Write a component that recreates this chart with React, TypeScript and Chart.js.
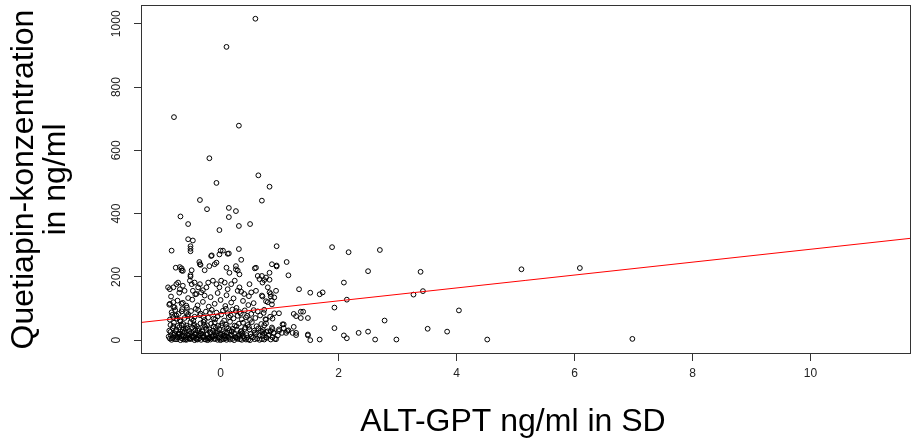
import { useEffect, useRef } from "react";
import { Chart, registerables } from "chart.js";

Chart.register(...registerables);

// Axis ticks
const xTicks = [0, 2, 4, 6, 8, 10];
const yTicks = [0, 200, 400, 600, 800, 1000];
const xTitle = "ALT-GPT ng/ml in SD";
const yTitleLines = ["Quetiapin-konzentration", "in ng/ml"];

// Axis ranges (R style, 4% extension)
const xRange = [-1.349, 11.703];
const yRange = [-43.75, 1059.4];

// Regression line (fitted values at the plot edges)
const fitX = [-1.35, 11.7];
const fitY = [56, 322];

// Scatter points in groups
const highX = [0.59, 0.10, -0.79, 0.31, -0.19, -0.07, 0.64, 0.83, 0.70, -0.35, -0.23, 0.14, 0.26, 0.14, -0.68, -0.55, 0.31, 0.50, -0.02];
const highY = [1016, 927, 705, 678, 575, 497, 521, 485, 441, 443, 414, 418, 408, 389, 391, 367, 361, 367, 348];

const upperX = [-0.55, -0.47, -0.51, -0.51, -0.51, -0.83, 0.00, 0.04, 0.31, 0.95, 0.14, -0.15, 0.35, 1.12, -0.36, -0.35, -0.07, 0.87, 0.95, 0.95, 1.15, 0.58, 0.26, 0.29, 0.10, -0.66, -0.66, -0.51, -0.51, -0.76, -0.16, -0.02, 0.12, -0.69, -0.64, -0.49, -0.34, -0.27, -0.19, -0.10, 0.26, 0.15, 0.32, 0.60, 0.63, 0.77, 0.70, 0.74, 0.83, 0.83];
const upperY = [319, 315, 297, 289, 281, 283, 283, 283, 288, 297, 274, 268, 254, 247, 247, 240, 245, 240, 236, 233, 205, 227, 224, 220, 229, 227, 220, 206, 201, 229, 266, 271, 273, 231, 219, 221, 238, 221, 234, 240, 234, 213, 208, 229, 203, 198, 203, 190, 191, 213];

const rightX = [1.33, 1.89, 2.17, 2.70, 2.50, 3.39, 5.10, 6.09, 6.98, 1.52, 1.68, 1.73, 2.09, 2.14, 3.27, 3.43, 1.93, 4.04, 0.99, 1.24, 1.28, 1.36, 1.40, 1.36, 1.48, 2.78, 1.07, 1.24, 0.99, 1.04, 1.11, 1.15, 1.28, 1.28, 1.48, 1.48, 1.52, 1.68, 1.93, 2.09, 2.14, 2.34, 2.50, 2.62, 2.98, 3.51, 3.84, 4.52];
const rightY = [161, 294, 278, 285, 218, 216, 224, 228, 4, 150, 145, 151, 182, 128, 144, 155, 103, 94, 85, 83, 76, 90, 90, 70, 70, 62, 50, 42, 34, 23, 23, 31, 23, 16, 18, 15, 0, 2, 38, 15, 6, 23, 27, 2, 2, 36, 27, 2];

const edgeX = [0.70, 0.71, 0.83, 0.85, 0.87, 0.87, 0.77, 0.80, 0.74, 0.91, 0.77, 0.88, 0.74, 0.87, 1.05, 1.07, 0.71, 0.77, 0.85, 0.90, 0.99, 1.13, 1.22, 0.71, 0.77, 0.88];
const edgeY = [141, 138, 151, 138, 125, 113, 123, 120, 96, 85, 65, 68, 47, 40, 50, 38, 26, 26, 29, 23, 29, 29, 23, 14, 9, 9];

const midX = [-0.89, -0.86, -0.80, -0.75, -0.72, -0.69, -0.64, -0.61, -0.86, -0.80, -0.78, -0.66, -0.58, -0.52, -0.49, -0.44, -0.38, -0.35, -0.47, -0.41, -0.33, -0.27, -0.24, -0.21, -0.13, -0.07, -0.02, 0.01, 0.07, 0.12, 0.18, 0.24, 0.29, 0.32, 0.40, 0.49, 0.52, 0.60, 0.66, 0.71, 0.80, 0.85, 0.91, 0.94];
const midY = [167, 161, 167, 177, 182, 161, 172, 156, 115, 120, 104, 115, 109, 188, 177, 182, 167, 177, 156, 146, 151, 141, 167, 182, 188, 177, 167, 188, 182, 161, 177, 188, 156, 167, 146, 177, 151, 156, 193, 182, 167, 146, 135, 156];

const lowAX = [-0.83, -0.77, -0.68, -0.63, -0.58, -0.52, -0.44, -0.39, -0.33, -0.27, -0.22, -0.17, -0.11, -0.05, 0.0, 0.05, 0.1, 0.16, 0.23, 0.29, 0.36, 0.43, 0.5, 0.58, 0.66, 0.74];
const lowAY = [1, 3, 0, 2, 1, 4, 0, 2, 1, 3, 0, 2, 4, 1, 0, 3, 1, 2, 0, 4, 1, 2, 0, 3, 1, 2];

const lowBX = [-0.86, -0.8, -0.74, -0.7, -0.66, -0.6, -0.55, -0.5, -0.46, -0.41, -0.36, -0.3, -0.25, -0.2, -0.14, -0.09, -0.03, 0.02, 0.08, 0.13, 0.2, 0.26, 0.33, 0.4, 0.47, 0.55, 0.62, 0.7, 0.78, 0.85, 0.92];
const lowBY = [5, 8, 3, 10, 6, 2, 7, 4, 9, 3, 6, 8, 2, 5, 9, 4, 7, 3, 6, 10, 4, 8, 3, 6, 2, 9, 5, 3, 7, 2, 4];

const lowCX = [-0.84, -0.78, -0.72, -0.67, -0.62, -0.57, -0.52, -0.47, -0.42, -0.38, -0.33, -0.28, -0.22, -0.17, -0.11, -0.06, 0.0, 0.05, 0.11, 0.17, 0.23, 0.3, 0.37, 0.44, 0.51, 0.58, 0.66, 0.74, 0.82, 0.9, 0.97];
const lowCY = [15, 22, 18, 13, 24, 17, 20, 14, 23, 16, 21, 12, 19, 25, 15, 22, 18, 14, 24, 17, 20, 13, 22, 16, 19, 24, 14, 21, 17, 23, 15];

const lowDX = [-0.87, -0.81, -0.76, -0.7, -0.64, -0.59, -0.53, -0.48, -0.43, -0.37, -0.31, -0.26, -0.19, -0.13, -0.08, -0.02, 0.04, 0.1, 0.15, 0.21, 0.28, 0.35, 0.42, 0.49, 0.57, 0.64, 0.72, 0.8, 0.88];
const lowDY = [30, 38, 28, 41, 33, 36, 29, 40, 32, 37, 27, 42, 34, 30, 39, 35, 28, 41, 31, 36, 33, 29, 40, 34, 30, 37, 32, 28, 35];

const lowEX = [-0.85, -0.79, -0.73, -0.68, -0.63, -0.58, -0.51, -0.45, -0.4, -0.34, -0.29, -0.23, -0.16, -0.1, -0.04, 0.03, 0.09, 0.16, 0.24, 0.31, 0.38, 0.46, 0.53, 0.61, 0.69, 0.77];
const lowEY = [48, 55, 45, 59, 51, 46, 57, 50, 44, 53, 58, 47, 52, 56, 45, 54, 49, 58, 46, 52, 55, 48, 57, 44, 51, 53];

const lowFX = [-0.86, -0.8, -0.75, -0.69, -0.61, -0.56, -0.49, -0.44, -0.35, -0.27, -0.21, -0.12, -0.05, 0.06, 0.14, 0.22, 0.29, 0.36, 0.43, 0.5, 0.59, 0.67, 0.76, 0.84];
const lowFY = [65, 72, 78, 63, 70, 76, 67, 74, 79, 64, 71, 68, 75, 62, 73, 69, 77, 66, 72, 64, 70, 78, 66, 74];

const lowGX = [-0.83, -0.77, -0.71, -0.65, -0.58, -0.5, -0.42, -0.34, -0.25, -0.15, -0.07, 0.04, 0.12, 0.2, 0.32, 0.41, 0.52, 0.63, 0.73];
const lowGY = [88, 95, 83, 98, 86, 92, 99, 84, 90, 96, 87, 93, 85, 97, 89, 94, 83, 91, 86];

const lowHX = [-0.87, -0.8, -0.73, -0.64, -0.57, -0.48, -0.39, -0.3, -0.2, -0.1, 0.0, 0.08, 0.18, 0.27, 0.38, 0.47, 0.56];
const lowHY = [112, 105, 125, 118, 103, 128, 110, 121, 106, 115, 127, 108, 119, 102, 124, 111, 117];

const lowIX = [-0.84, -0.7, -0.55, -0.43, -0.3, -0.17, -0.05, 0.1, 0.22, 0.35, 0.48];
const lowIY = [138, 150, 133, 145, 158, 136, 149, 142, 132, 153, 139];

const lowJX = [-0.88, -0.82, -0.79, -0.73, -0.69, -0.64, -0.59, -0.54, -0.49, -0.44, -0.4, -0.35, -0.29, -0.24, -0.18, -0.13, -0.08, -0.01, 0.03, 0.09, 0.14, 0.19, 0.25, 0.32, 0.39, 0.45];
const lowJY = [11, 6, 17, 9, 20, 13, 8, 16, 11, 19, 7, 14, 10, 18, 6, 12, 16, 9, 20, 11, 7, 15, 10, 18, 12, 8];

const lowKX = [-0.85, -0.8, -0.75, -0.71, -0.66, -0.61, -0.56, -0.5, -0.45, -0.39, -0.34, -0.28, -0.24, -0.18, -0.12, -0.06, 0.01, 0.07, 0.13, 0.19, 0.27, 0.34, 0.41, 0.48];
const lowKY = [26, 44, 33, 21, 47, 28, 39, 24, 45, 31, 22, 48, 36, 25, 43, 29, 46, 23, 38, 27, 44, 26, 35, 42];

const lowLX = [-0.75, -0.65, -0.53, -0.42, -0.31, -0.2, -0.09, 0.07, 0.19, 0.28, 0.35, 0.52, 0.6, 0.68, 0.81, 0.94];
const lowLY = [12, 27, 5, 18, 31, 9, 24, 15, 28, 7, 19, 11, 20, 30, 14, 3];

const lowMX = [-0.82, -0.74, -0.66, -0.55, -0.46, -0.38, -0.29, -0.18, -0.09, 0.01, 0.09, 0.17, 0.26, 0.34, 0.45, 0.56];
const lowMY = [80, 68, 91, 82, 62, 95, 73, 86, 66, 81, 99, 78, 92, 84, 77, 95];

const groups: [number[], number[]][] = [
  [highX, highY], [upperX, upperY], [rightX, rightY], [edgeX, edgeY], [midX, midY],
  [lowAX, lowAY], [lowBX, lowBY], [lowCX, lowCY], [lowDX, lowDY], [lowEX, lowEY],
  [lowFX, lowFY], [lowGX, lowGY], [lowHX, lowHY], [lowIX, lowIY],
  [lowJX, lowJY], [lowKX, lowKY], [lowLX, lowLY], [lowMX, lowMY],
];

const FONT = '"Liberation Sans", Arial, sans-serif';

const annotPlugin = {
  id: "annot",
  afterDraw(chart: any) {
    const { ctx, chartArea: a, scales } = chart;
    ctx.save();
    // box
    ctx.strokeStyle = "#333";
    ctx.lineWidth = 1;
    ctx.strokeRect(a.left + 0.5, a.top + 0.5, a.right - a.left - 1, a.bottom - a.top - 1);
    // rotated y tick labels
    ctx.fillStyle = "#222";
    ctx.font = `12px ${FONT}`;
    ctx.textAlign = "center";
    ctx.textBaseline = "middle";
    for (const v of yTicks) {
      const py = scales.y.getPixelForValue(v);
      ctx.save();
      ctx.translate(117, py);
      ctx.rotate(-Math.PI / 2);
      ctx.fillText(String(v), 0, 0);
      ctx.restore();
    }
    // axis titles
    ctx.fillStyle = "#000";
    ctx.font = `32px ${FONT}`;
    ctx.textBaseline = "alphabetic";
    ctx.textAlign = "center";
    ctx.fillText(xTitle, 513, 431);
    const cy = (a.top + a.bottom) / 2;
    const baseX = [33, 65];
    yTitleLines.forEach((t, i) => {
      ctx.save();
      ctx.translate(baseX[i], cy);
      ctx.rotate(-Math.PI / 2);
      ctx.fillText(t, 0, 0);
      ctx.restore();
    });
    ctx.restore();
  },
};

export default function App() {
  const ref = useRef<HTMLCanvasElement>(null);
  useEffect(() => {
    document.body.style.margin = "0";
    const points: { x: number; y: number }[] = [];
    for (const [gx, gy] of groups) {
      const n = Math.min(gx.length, gy.length);
      for (let i = 0; i < n; i++) points.push({ x: gx[i], y: gy[i] });
    }
    const chart = new Chart(ref.current as HTMLCanvasElement, {
      type: "scatter",
      data: {
        datasets: [
          {
            data: points,
            pointStyle: "circle",
            pointRadius: 2.4,
            borderColor: "#000",
            borderWidth: 1,
            backgroundColor: "rgba(0,0,0,0)",
            order: 2,
          } as any,
          {
            data: fitX.map((x, i) => ({ x, y: fitY[i] })),
            showLine: true,
            borderColor: "#ff0000",
            borderWidth: 1,
            pointRadius: 0,
            order: 1,
          } as any,
        ],
      },
      options: {
        responsive: false,
        animation: false,
        layout: { padding: { top: 1, right: 1, left: 0, bottom: 0 } },
        plugins: { legend: { display: false }, tooltip: { enabled: false } },
        scales: {
          x: {
            type: "linear",
            min: xRange[0],
            max: xRange[1],
            afterBuildTicks: (s: any) => {
              s.ticks = xTicks.map((v) => ({ value: v }));
            },
            afterFit: (s: any) => {
              s.height = 85;
            },
            grid: { drawOnChartArea: false, drawTicks: true, tickLength: 7, color: "#333" },
            border: { display: false },
            ticks: {
              font: { family: FONT, size: 12 },
              color: "#222",
              padding: 5,
              maxRotation: 0,
              minRotation: 0,
              autoSkip: false,
            },
          },
          y: {
            type: "linear",
            min: yRange[0],
            max: yRange[1],
            afterBuildTicks: (s: any) => {
              s.ticks = yTicks.map((v) => ({ value: v }));
            },
            afterFit: (s: any) => {
              s.width = 141;
            },
            grid: { drawOnChartArea: false, drawTicks: true, tickLength: 7, color: "#333" },
            border: { display: false },
            ticks: { display: false },
          },
        },
      },
      plugins: [annotPlugin],
    });
    return () => chart.destroy();
  }, []);
  return <canvas ref={ref} width={916} height={439} style={{ display: "block" }} />;
}
